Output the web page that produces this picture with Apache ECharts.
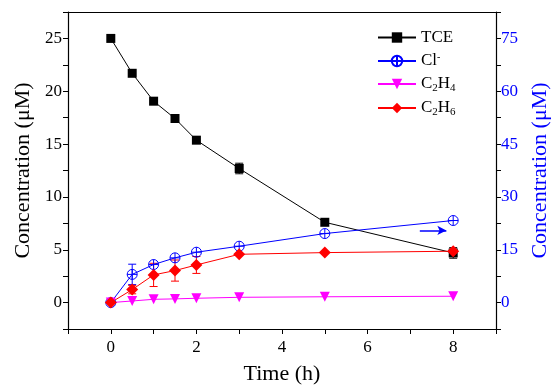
<!DOCTYPE html>
<html><head><meta charset="utf-8">
<script src="https://cdn.jsdelivr.net/npm/echarts@6/dist/echarts.min.js"></script>
<style>html,body{margin:0;padding:0;background:#fff}#c{width:557px;height:387px}</style>
</head><body><div id="c"></div>
<script>
var times = [0, 0.5, 1, 1.5, 2, 3, 5, 8];
var tce = [25, 21.7, 19.06, 17.42, 15.37, 12.69, 7.6, 4.7];
var chloride = [0, 8.0, 10.8, 12.7, 14.3, 16.0, 19.6, 23.3]; // right axis
var c2h4 = [0, 0.15, 0.31, 0.35, 0.41, 0.5, 0.55, 0.6];
var c2h6 = [0, 1.23, 2.62, 3.03, 3.56, 4.57, 4.73, 4.86];
var tceErr = [[3, 0.5], [8, 0.5]];
var clErr = [[0.5, 2.9]];
var c2h6Err = [[0.5, 0.4], [1, 1.1], [1.5, 1.0], [2, 0.8]];
var arrowPts = [[7.22, 20.5], [7.84, 20.5]];
var xTicks = [0, 2, 4, 6, 8];

function pairs(vals){ return times.map(function(t,i){ return [t, vals[i]]; }); }
function errData(errs, vals){
  return errs.map(function(e){ var i = times.indexOf(e[0]); return [e[0], vals[i]-e[1], vals[i]+e[1]]; });
}
function errSeries(errs, vals, color, yIdx){
  return {
    type: 'custom', yAxisIndex: yIdx, silent: true, z: 1,
    data: errData(errs, vals),
    renderItem: function(params, api){
      var x = api.value(0);
      var lo = api.coord([x, api.value(1)]);
      var hi = api.coord([x, api.value(2)]);
      var w = 4;
      var st = {stroke: color, lineWidth: 1};
      return {type: 'group', children: [
        {type: 'line', shape: {x1: lo[0], y1: lo[1], x2: hi[0], y2: hi[1]}, style: st},
        {type: 'line', shape: {x1: lo[0]-w, y1: lo[1], x2: lo[0]+w, y2: lo[1]}, style: st},
        {type: 'line', shape: {x1: hi[0]-w, y1: hi[1], x2: hi[0]+w, y2: hi[1]}, style: st}
      ]};
    }
  };
}
var font = 'Liberation Serif';
var names = {'TCE': 'TCE', 'Cl': '{n|Cl}{sup|-}', 'C2H4': '{n|C}{sub|2}{n|H}{sub|4}', 'C2H6': '{n|C}{sub|2}{n|H}{sub|6}'};
var clPath = 'path://M0,-10A10,10 0 1,1 0,10A10,10 0 1,1 0,-10ZM-10,0L10,0M0,-10L0,10';

var chart = echarts.init(document.getElementById('c'));
chart.setOption({
  animation: false,
  backgroundColor: '#fff',
  textStyle: {fontFamily: font},
  grid: {left: 68, right: 61, top: 12, bottom: 58, containLabel: false, outerBoundsMode: 'none'},
  legend: {
    orient: 'vertical', left: 372, top: 24, itemGap: 6, itemWidth: 38, itemHeight: 13,
    formatter: function(n){ return names[n]; },
    textStyle: {fontFamily: font, fontSize: 17, color: '#000',
      rich: {n: {fontSize: 17, fontFamily: font}, sup: {fontSize: 10, fontFamily: font, verticalAlign: 'top', padding: [0,0,8,0]}, sub: {fontSize: 11, fontFamily: font, padding: [8,0,0,0]}}},
    data: ['TCE', 'Cl', 'C2H4', 'C2H6']
  },
  xAxis: [{
    type: 'value', min: -1, max: 9, interval: 1,
    name: 'Time (h)', nameLocation: 'middle', nameGap: 34,
    nameTextStyle: {fontFamily: font, fontSize: 22, color: '#000'},
    axisLine: {onZero: false, lineStyle: {color: '#000', width: 1.2}},
    axisTick: {length: 5, lineStyle: {color: '#000'}},
    axisLabel: {fontFamily: font, fontSize: 17, color: '#000', margin: 10,
      formatter: function(v){ return xTicks.indexOf(v) >= 0 ? String(v) : ''; }},
    splitLine: {show: false}
  }, {
    type: 'value', min: -1, max: 9, position: 'top',
    axisLine: {onZero: false, lineStyle: {color: '#000', width: 1.2}}, axisTick: {show: false}, axisLabel: {show: false}, splitLine: {show: false}
  }],
  yAxis: [{
    type: 'value', min: -2.5, max: 27.5, interval: 2.5,
    name: 'Concentration (μM)', nameLocation: 'middle', nameGap: 29, nameRotate: 90,
    nameTextStyle: {fontFamily: font, fontSize: 22, color: '#000'},
    axisLine: {show: true, onZero: false, lineStyle: {color: '#000', width: 1.2}},
    axisTick: {show: true, length: 5, lineStyle: {color: '#000'}},
    axisLabel: {fontFamily: font, fontSize: 17, color: '#000', margin: 6,
      formatter: function(v){ return (v % 5 === 0) ? String(v) : ''; }},
    splitLine: {show: false}
  }, {
    type: 'value', min: -7.5, max: 82.5, interval: 7.5, position: 'right',
    name: 'Concentration (μM)', nameLocation: 'middle', nameGap: 29, nameRotate: 90,
    nameTextStyle: {fontFamily: font, fontSize: 22, color: '#0000ff'},
    axisLine: {show: true, onZero: false, lineStyle: {color: '#000', width: 1.2}},
    axisTick: {show: true, length: 5, lineStyle: {color: '#000'}},
    axisLabel: {fontFamily: font, fontSize: 17, color: '#0000ff', margin: 5,
      formatter: function(v){ return (v % 15 === 0) ? String(v) : ''; }},
    splitLine: {show: false}
  }],
  series: [
    errSeries(tceErr, tce, '#000', 0),
    errSeries(clErr, chloride, '#0000ff', 1),
    errSeries(c2h6Err, c2h6, '#ff0000', 0),
    {name: 'TCE', type: 'line', yAxisIndex: 0, data: pairs(tce), symbol: 'rect', symbolSize: 9,
      lineStyle: {color: '#000', width: 1}, itemStyle: {color: '#000'}, z: 3},
    {name: 'Cl', type: 'line', yAxisIndex: 1, data: pairs(chloride), symbol: clPath, symbolSize: 10,
      lineStyle: {color: '#0000ff', width: 1}, itemStyle: {color: 'rgba(0,0,0,0)', borderColor: '#0000ff', borderWidth: 1}, z: 3,
      markLine: {silent: true, symbol: ['none', 'arrow'], symbolSize: [7, 9], label: {show: false},
        lineStyle: {color: '#0000ff', type: 'solid', width: 1.5},
        data: [[{coord: arrowPts[0]}, {coord: arrowPts[1]}]]}},
    {name: 'C2H4', type: 'line', yAxisIndex: 0, data: pairs(c2h4), symbol: 'triangle', symbolRotate: 180, symbolSize: 10,
      lineStyle: {color: '#ff00ff', width: 1}, itemStyle: {color: '#ff00ff'}, z: 3},
    {name: 'C2H6', type: 'line', yAxisIndex: 0, data: pairs(c2h6), symbol: 'diamond', symbolSize: 12,
      lineStyle: {color: '#ff0000', width: 1}, itemStyle: {color: '#ff0000'}, z: 3}
  ]
});
</script></body></html>
